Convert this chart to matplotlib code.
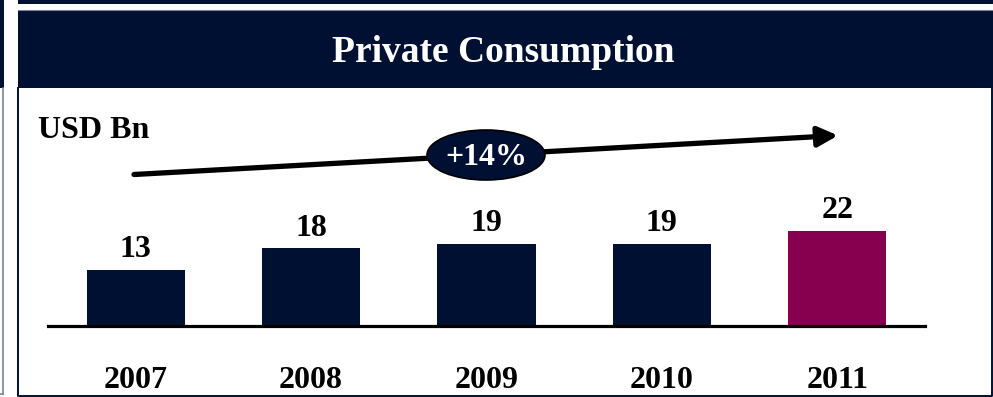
import matplotlib
matplotlib.use("Agg")
import matplotlib.pyplot as plt
from matplotlib.patches import Rectangle, Ellipse

plt.rcParams["font.family"] = ["Liberation Serif", "DejaVu Serif"]
plt.rcParams["font.weight"] = "bold"

NAVY = "#001033"
MAGENTA = "#870050"
GREY = "#7d8299"

years = ["2007", "2008", "2009", "2010", "2011"]
values = [13, 18, 19, 19, 22]
bar_colors = [NAVY, NAVY, NAVY, NAVY, MAGENTA]
title = "Private Consumption"
unit_label = "USD Bn"
growth_label = "+14%"

W, H = 993, 397
fig = plt.figure(figsize=(W / 100, H / 100), dpi=100)
fig.patch.set_facecolor("white")

# frame layer in pixel coordinates (origin top-left)
bg = fig.add_axes([0, 0, 1, 1])
bg.set_xlim(0, W)
bg.set_ylim(H, 0)
bg.axis("off")

# neighbouring panel edge on the far left
bg.add_patch(Rectangle((0, 0), 4, 88, color=NAVY, lw=0))
bg.plot([3, 3], [88, 394], color=GREY, lw=1.2)
bg.plot([0, 3], [394, 394], color=GREY, lw=1.2)

# top strip and banner
bg.add_patch(Rectangle((18, 0), W - 18, 4, color=NAVY, lw=0))
bg.plot([18, W], [9.5, 9.5], color=GREY, lw=0.8)
bg.add_patch(Rectangle((17.5, 10), W - 17.5, 78, color=NAVY, lw=0))
bg.text(503, 62, title, color="white", fontsize=27, ha="center", va="baseline")

# panel border
bg.plot([18.3, 18.3, 992, 992], [88, 395.5, 395.5, 88], color=NAVY, lw=1.4)

bg.text(38, 138, unit_label, color="black", fontsize=23, ha="left", va="baseline")

# growth arrow with CAGR bubble
bg.annotate("", xy=(838, 135.5), xytext=(134, 174.5),
            arrowprops=dict(arrowstyle="-|>,head_length=0.6,head_width=0.3",
                            mutation_scale=20, lw=3.8, color="black",
                            shrinkA=0, shrinkB=0))
bg.add_patch(Ellipse((486, 155), 118, 50, facecolor=NAVY, edgecolor="black",
                     lw=1.2, zorder=3))
bg.text(486, 165, growth_label, color="white", fontsize=23,
        ha="center", va="baseline", zorder=4)

# bar chart
ax = fig.add_axes([48 / W, 71 / H, 877 / W, 25 * 4.33 / H])
ax.patch.set_alpha(0)
x = range(len(years))
ax.bar(x, values, width=0.56, color=bar_colors, zorder=2)
ax.set_xlim(-0.5, 4.5)
ax.set_ylim(0, 25)
for s in ("top", "right", "left"):
    ax.spines[s].set_visible(False)
ax.spines["bottom"].set_linewidth(2.3)
ax.spines["bottom"].set_color("black")
ax.set_xticks([])
ax.set_yticks([])

for i, v in enumerate(values):
    ax.annotate(str(v), xy=(i, v), xytext=(0, 12.5), textcoords="offset pixels",
                ha="center", va="baseline", fontsize=23, color="black")
    ax.annotate(years[i], xy=(i, 0), xytext=(0, -62), textcoords="offset pixels",
                ha="center", va="baseline", fontsize=23, color="black",
                annotation_clip=False)

fig.savefig("out.png", dpi=100, facecolor="white")
